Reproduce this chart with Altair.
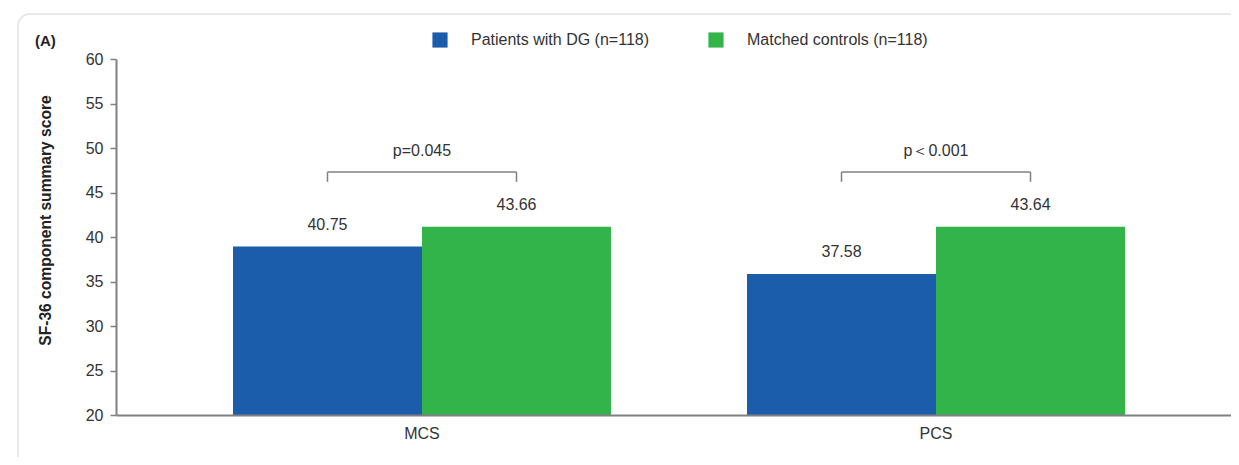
import altair as alt
import pandas as pd

categories = ["MCS", "PCS"]
groups = ["Patients with DG (n=118)", "Matched controls (n=118)"]
colors = ["#1B5CAB", "#33B44A"]

# bar heights as drawn in the figure, and the printed labels
bar_mcs = [38.93, 41.14]
bar_pcs = [35.85, 41.14]
labels_mcs = ["40.75", "43.66"]
labels_pcs = ["37.58", "43.64"]

p_labels = ["p=0.045", "p\uff1c0.001"]
bracket_top = [47.3, 47.3]
bracket_bottom = [46.2, 46.2]
p_y = [49.7, 49.7]

rows = []
for cat, vals, labs in [("MCS", bar_mcs, labels_mcs), ("PCS", bar_pcs, labels_pcs)]:
    for g, v, l in zip(groups, vals, labs):
        rows.append({"cat": cat, "group": g, "value": v, "label": l, "base": 20})
bars_df = pd.DataFrame(rows)

brk_rows = []
for cat, top, bot, p, py in zip(categories, bracket_top, bracket_bottom, p_labels, p_y):
    brk_rows.append({"cat": cat, "top": top, "bot": bot, "p": p, "py": py})
brk_df = pd.DataFrame(brk_rows)

end_rows = []
for cat, top, bot in zip(categories, bracket_top, bracket_bottom):
    for g in groups:
        end_rows.append({"cat": cat, "group": g, "top": top, "bot": bot})
end_df = pd.DataFrame(end_rows)

FONT = "Liberation Sans"
GRAY = "#808080"
TXT = "#333333"
FS = 16

xscale = alt.Scale(domain=categories, range=[0, 1126], paddingInner=0.2646, paddingOuter=0.2276)
yscale = alt.Scale(domain=[20, 60], nice=False, zero=False)
offscale = alt.Scale(domain=groups, paddingInner=0, paddingOuter=0)

xenc = alt.X("cat:N", scale=xscale, sort=categories,
             axis=alt.Axis(title=None, labelAngle=0, ticks=False, labelFontSize=FS,
                           labelColor=TXT, labelFont=FONT, labelPadding=10,
                           domainColor=GRAY, domainWidth=2, zindex=1))
yenc = alt.Y("value:Q", scale=yscale,
             axis=alt.Axis(title="SF-36 component summary score", values=list(range(20, 61, 5)),
                           grid=False, labelFontSize=FS, labelColor=TXT, labelFont=FONT,
                           labelPadding=7, tickSize=6, tickColor=GRAY, tickWidth=1.5,
                           domainColor=GRAY, domainWidth=2, zindex=1,
                           titleFont=FONT, titleFontSize=15.6, titleFontWeight="bold",
                           titleColor="#222222", titleAngle=-90, titleX=-66,
                           titleY=161, titleBaseline="alphabetic", titleAlign="center"))

card = alt.Chart(pd.DataFrame({"c": [0]})).mark_rect(
    fill="white", stroke="#e2e2e2", strokeWidth=1.5, cornerRadius=12
).encode(x=alt.value(-98), x2=alt.value(1250), y=alt.value(-45), y2=alt.value(480))

bars = alt.Chart(bars_df).mark_bar().encode(
    x=xenc,
    xOffset=alt.XOffset("group:N", scale=offscale, sort=groups),
    y=yenc,
    y2=alt.Y2("base:Q"),
    color=alt.Color("group:N", sort=groups, scale=alt.Scale(domain=groups, range=colors),
                    legend=alt.Legend(title=None, orient="none", direction="horizontal",
                                      legendX=316, legendY=-27, symbolType="square",
                                      symbolSize=230, symbolStrokeWidth=0, symbolOpacity=1,
                                      labelFontSize=FS, labelFont=FONT, labelColor=TXT,
                                      labelLimit=0, labelOffset=23, columnPadding=58)),
)

vlabels = alt.Chart(bars_df).mark_text(
    fontSize=FS, font=FONT, color=TXT, baseline="middle", dy=-21.5
).encode(
    x=alt.X("cat:N", scale=xscale, sort=categories),
    xOffset=alt.XOffset("group:N", scale=offscale, sort=groups),
    y=alt.Y("value:Q", scale=yscale),
    text="label:N",
)

hbar = alt.Chart(brk_df).mark_tick(size=189, thickness=1.5, color=GRAY, opacity=1).encode(
    x=alt.X("cat:N", scale=xscale, sort=categories),
    y=alt.Y("top:Q", scale=yscale),
)

ends = alt.Chart(end_df).mark_rule(color=GRAY, strokeWidth=1.5).encode(
    x=alt.X("cat:N", scale=xscale, sort=categories),
    xOffset=alt.XOffset("group:N", scale=offscale, sort=groups),
    y=alt.Y("top:Q", scale=yscale),
    y2="bot:Q",
)

ptext = alt.Chart(brk_df).mark_text(fontSize=FS, font=FONT, color=TXT, baseline="middle").encode(
    x=alt.X("cat:N", scale=xscale, sort=categories),
    y=alt.Y("py:Q", scale=yscale),
    text="p:N",
)

panel = alt.Chart(pd.DataFrame({"t": ["(A)"]})).mark_text(
    fontSize=15, font=FONT, fontWeight="bold", color="#222222", align="left", baseline="middle"
).encode(x=alt.value(-81), y=alt.value(-18), text="t:N")

chart = alt.layer(card, bars, vlabels, hbar, ends, ptext, panel).properties(
    width=1115, height=356,
    autosize=alt.AutoSizeParams(type="none"),
    padding={"left": 108, "top": 51, "right": 0, "bottom": 42},
).configure_view(stroke=None).configure(background="white")

chart.save("out.html", embed_options={"renderer": "svg", "actions": False})
